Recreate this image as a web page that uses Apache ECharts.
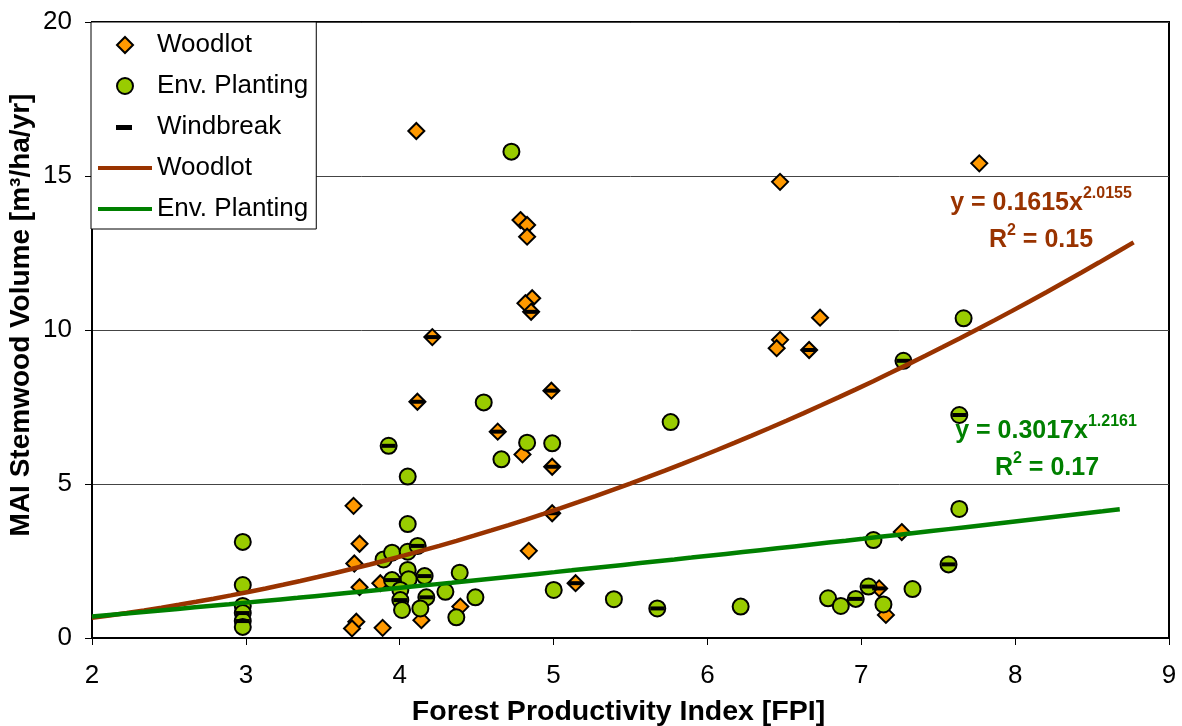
<!DOCTYPE html>
<html>
<head>
<meta charset="utf-8">
<title>MAI Stemwood Volume vs Forest Productivity Index</title>
<script src="https://cdn.jsdelivr.net/npm/echarts@6/dist/echarts.min.js"></script>
<style>
  html, body { margin: 0; padding: 0; background: #fff; }
  #chart { width: 1182px; height: 726px; }
</style>
</head>
<body>
<div id="chart"></div>
<script>
// Woodlot plots: FPI and mean annual increment of stemwood volume
const woodlotFPI = [4.108, 4.785, 4.828, 4.828, 4.861, 4.817, 4.854, 4.212, 4.115, 4.986,
                    4.637, 4.798, 4.991, 4.991, 4.839, 3.700, 3.739, 3.705, 3.739, 3.874,
                    3.718, 3.690, 3.889, 4.141, 4.394, 5.143, 7.263, 7.116, 7.160, 6.472,
                    7.767, 6.732, 6.472, 6.450, 6.661];
const woodlotMAI = [16.46, 13.57, 13.41, 13.03, 11.03, 10.87, 10.59, 9.77, 7.67, 8.03,
                    6.70, 5.96, 5.56, 4.05, 2.83, 4.29, 3.06, 2.42, 1.65, 1.78,
                    0.53, 0.31, 0.33, 0.58, 1.02, 1.78, 3.44, 1.61, 0.75, 14.81,
                    15.41, 10.40, 9.68, 9.41, 9.35];

// Environmental planting plots
const envFPI = [4.726, 7.665, 7.274, 7.637, 7.637, 5.761, 4.546, 4.828, 4.991, 4.661,
                3.928, 4.052, 4.052, 3.895, 3.950, 4.052, 4.117, 4.052, 4.162, 3.950,
                4.058, 4.004, 4.004, 4.173, 4.297, 4.390, 4.492, 4.015, 4.134, 4.368,
                2.980, 2.980, 2.980, 2.980, 2.980, 2.980, 5.001, 5.392, 5.674, 6.216,
                6.784, 6.867, 6.964, 7.047, 7.144, 7.333, 7.567, 7.079];
const envMAI = [15.79, 10.38, 9.00, 7.24, 4.19, 7.01, 7.65, 6.34, 6.32, 5.80,
                6.24, 5.24, 3.70, 2.55, 2.77, 2.80, 2.99, 2.21, 2.01, 1.88,
                1.91, 1.56, 1.23, 1.32, 1.50, 2.12, 1.32, 0.91, 0.96, 0.67,
                3.12, 1.72, 1.04, 0.81, 0.55, 0.36, 1.56, 1.26, 0.96, 1.02,
                1.29, 1.04, 1.27, 1.67, 1.09, 1.59, 2.39, 3.18];

// Windbreak plots
const windFPI = [4.854, 4.212, 4.115, 4.986, 4.637, 4.991, 4.991, 5.143, 6.661, 7.116,
                 3.928, 7.274, 7.637, 7.567, 5.674, 6.964, 7.047, 4.117, 4.162, 3.950,
                 4.173, 4.004, 2.980, 2.980];
const windMAI = [10.59, 9.77, 7.67, 8.03, 6.70, 5.56, 4.05, 1.78, 9.35, 1.61,
                 6.24, 9.00, 7.24, 2.39, 0.96, 1.27, 1.67, 2.99, 2.01, 1.88,
                 1.32, 1.23, 0.81, 0.55];

// Power-law trend lines y = a * x^b, as reported on the chart
const woodlotTrend = [0.1615, 2.0155, 0.15];   // a, b, R²
const envTrend = [0.3017, 1.2161, 0.17];
const woodlotTrendRange = [2, 8.77];
const envTrendRange = [2, 8.68];

// Axis ticks
const xTicks = [2, 3, 4, 5, 6, 7, 8, 9];
const yTicks = [0, 5, 10, 15, 20];

const pairs = (xs, ys) => xs.map((x, i) => [x, ys[i]]);

function trendCurve(coef, range) {
  const pts = [];
  const n = 60;
  for (let i = 0; i <= n; i++) {
    const x = range[0] + (range[1] - range[0]) * i / n;
    pts.push([x, coef[0] * Math.pow(x, coef[1])]);
  }
  return pts;
}

const FONT = "'Liberation Sans', Arial, sans-serif";
const BROWN = '#993300';
const GREEN = '#008000';

// Legend icons: a 54x16 frame (corner points) keeps every glyph at its true size
const FRAME = 'M0,0L0,0M54,16L54,16';
const ICON_DIAMOND = 'path://' + FRAME + 'M27,0L35,8L27,16L19,8Z';
const ICON_DASH = 'path://' + FRAME + 'M18,6L34,6L34,11L18,11Z';
const ICON_LINE = 'path://' + FRAME + 'M0,6L54,6L54,10L0,10Z';

const chart = echarts.init(document.getElementById('chart'), null, { renderer: 'canvas' });

function eqText(color, coef) {
  return {
    eq: '{a|y = ' + coef[0].toFixed(4) + 'x}{b|' + coef[1].toFixed(4) + '}',
    r2: '{a|R}{b|2}{a| = ' + coef[2].toFixed(2) + '}',
    rich: {
      a: { fontFamily: FONT, fontSize: 25, fontWeight: 'bold', fill: color, lineHeight: 34 },
      b: { fontFamily: FONT, fontSize: 16, fontWeight: 'bold', fill: color, lineHeight: 16, verticalAlign: 'top' }
    }
  };
}
const wEq = eqText(BROWN, woodlotTrend);
const eEq = eqText(GREEN, envTrend);

function labelEl(x, y, text, rich) {
  return {
    type: 'text', x: x, y: y, z: 20,
    style: { text: text, rich: rich, align: 'center', verticalAlign: 'middle' }
  };
}

const option = {
  animation: false,
  backgroundColor: '#fff',
  textStyle: { fontFamily: FONT },
  grid: {
    left: 92, right: 13, top: 22, bottom: 88,
    outerBoundsMode: 'none', containLabel: false,
    show: true, borderColor: '#000', borderWidth: 2, backgroundColor: 'transparent'
  },
  legend: {
    orient: 'vertical',
    left: 91, top: 22,
    padding: [10, 8, 7, 6],
    itemWidth: 54, itemHeight: 16, itemGap: 15,
    backgroundColor: '#fff', borderColor: '#000', borderWidth: 1,
    textStyle: { fontFamily: FONT, fontSize: 26, color: '#000', lineHeight: 26 },
    formatter: name => name.trim(),
    data: [
      { name: 'Woodlot', icon: ICON_DIAMOND },
      { name: 'Env. Planting', icon: 'circle' },
      { name: 'Windbreak', icon: ICON_DASH },
      { name: 'Woodlot ', icon: ICON_LINE, itemStyle: { color: BROWN, borderWidth: 0 } },
      { name: 'Env. Planting ', icon: ICON_LINE, itemStyle: { color: GREEN, borderWidth: 0 } }
    ]
  },
  xAxis: {
    type: 'value', min: xTicks[0], max: xTicks[xTicks.length - 1], interval: 1,
    name: 'Forest Productivity Index [FPI]',
    nameLocation: 'middle', nameGap: 60, nameMoveOverlap: false,
    nameTextStyle: { fontFamily: FONT, fontSize: 28.5, fontWeight: 'bold', color: '#000', padding: [0, 24, 0, 0] },
    axisLine: { lineStyle: { color: '#000', width: 2 } },
    axisTick: { show: true, inside: false, length: 7, lineStyle: { color: '#000', width: 1 } },
    axisLabel: { fontFamily: FONT, fontSize: 26, color: '#000', margin: 25 },
    splitLine: { show: false }
  },
  yAxis: {
    type: 'value', min: yTicks[0], max: yTicks[yTicks.length - 1], interval: 5,
    name: 'MAI Stemwood Volume [m³/ha/yr]',
    nameLocation: 'middle', nameGap: 57, nameMoveOverlap: false,
    nameTextStyle: { fontFamily: FONT, fontSize: 28, fontWeight: 'bold', color: '#000', padding: [0, 0, 0, 30] },
    axisLine: { show: true, lineStyle: { color: '#000', width: 2 } },
    axisTick: { show: true, inside: false, length: 7, lineStyle: { color: '#000', width: 1 } },
    axisLabel: { fontFamily: FONT, fontSize: 26, color: '#000', margin: 20 },
    splitLine: { show: true, lineStyle: { color: '#444', width: 1 } }
  },
  series: [
    {
      name: 'Woodlot', type: 'scatter', z: 2,
      data: pairs(woodlotFPI, woodlotMAI),
      symbol: 'diamond', symbolSize: 16,
      itemStyle: { color: '#FF9900', borderColor: '#000', borderWidth: 2, opacity: 1 }
    },
    {
      name: 'Env. Planting', type: 'scatter', z: 3,
      data: pairs(envFPI, envMAI),
      symbol: 'circle', symbolSize: 16,
      itemStyle: { color: '#99CC00', borderColor: '#000', borderWidth: 2, opacity: 1 }
    },
    {
      name: 'Windbreak', type: 'scatter', z: 4,
      data: pairs(windFPI, windMAI),
      symbol: 'rect', symbolSize: [14, 4],
      itemStyle: { color: '#000', borderWidth: 0, opacity: 1 }
    },
    {
      name: 'Woodlot ', type: 'line', z: 5,
      data: trendCurve(woodlotTrend, woodlotTrendRange),
      symbol: 'none', smooth: false,
      itemStyle: { color: BROWN, borderWidth: 0 },
      lineStyle: { color: BROWN, width: 4.5 }
    },
    {
      name: 'Env. Planting ', type: 'line', z: 5,
      data: trendCurve(envTrend, envTrendRange),
      symbol: 'none', smooth: false,
      itemStyle: { color: GREEN, borderWidth: 0 },
      lineStyle: { color: GREEN, width: 4.5 }
    }
  ],
  graphic: [
    labelEl(1041, 203, wEq.eq, wEq.rich),
    labelEl(1041, 240, wEq.r2, wEq.rich),
    labelEl(1046, 431, eEq.eq, eEq.rich),
    labelEl(1047, 468, eEq.r2, eEq.rich)
  ]
};

chart.setOption(option);
</script>
</body>
</html>
